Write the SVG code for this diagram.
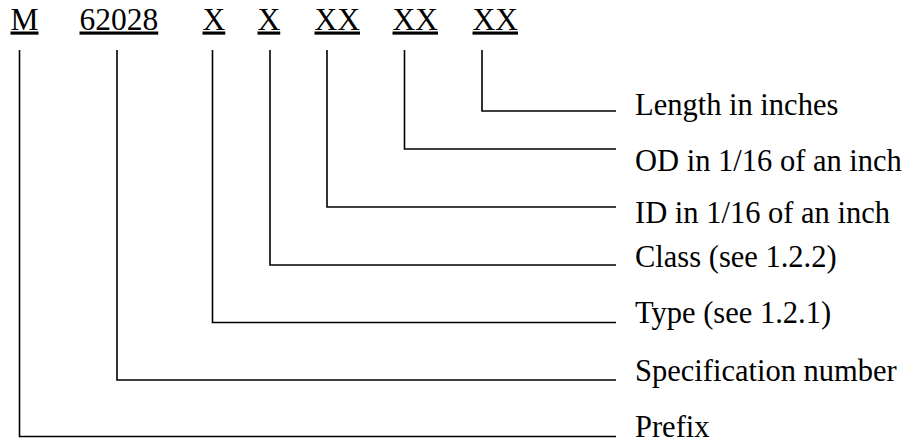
<svg xmlns="http://www.w3.org/2000/svg" width="914" height="442" viewBox="0 0 914 442">
  <style>
    text { font-family: "Liberation Serif", "Times New Roman", serif; fill: #000; }
    .code { font-size: 31.5px; text-decoration: underline; }
    .label { font-size: 30.5px; }
    .leader { fill: none; stroke: #000; stroke-width: 1.6; }
  </style>
  <rect width="914" height="442" fill="#fff"/>

  <!-- part-number fields -->
  <g id="field-prefix"><text class="code" x="10.5" y="29.5">M</text></g>
  <g id="field-spec"><text class="code" x="79.5" y="29.5">62028</text></g>
  <g id="field-type"><text class="code" x="202.5" y="29.5">X</text></g>
  <g id="field-class"><text class="code" x="257.5" y="29.5">X</text></g>
  <g id="field-id"><text class="code" x="314.5" y="29.5">XX</text></g>
  <g id="field-od"><text class="code" x="392.5" y="29.5">XX</text></g>
  <g id="field-length"><text class="code" x="472.5" y="29.5">XX</text></g>

  <!-- leader lines from each field to its description -->
  <g id="connectors" class="leader">
    <polyline points="482,50 482,111 616,111"/>
    <polyline points="404.5,50 404.5,149 616,149"/>
    <polyline points="327,50 327,207 616,207"/>
    <polyline points="270,50 270,265 616,265"/>
    <polyline points="212.5,50 212.5,322.5 616,322.5"/>
    <polyline points="117,50 117,380 616,380"/>
    <polyline points="19.5,50 19.5,436.5 616,436.5"/>
  </g>

  <!-- descriptions -->
  <g id="label-length"><text class="label" x="635" y="115">Length in inches</text></g>
  <g id="label-od"><text class="label" x="635" y="171">OD in 1/16 of an inch</text></g>
  <g id="label-id"><text class="label" x="635" y="222.5">ID in 1/16 of an inch</text></g>
  <g id="label-class"><text class="label" x="635" y="267">Class (see 1.2.2)</text></g>
  <g id="label-type"><text class="label" x="635" y="323">Type (see 1.2.1)</text></g>
  <g id="label-spec"><text class="label" x="635" y="381">Specification number</text></g>
  <g id="label-prefix"><text class="label" x="635" y="436.5">Prefix</text></g>
</svg>
